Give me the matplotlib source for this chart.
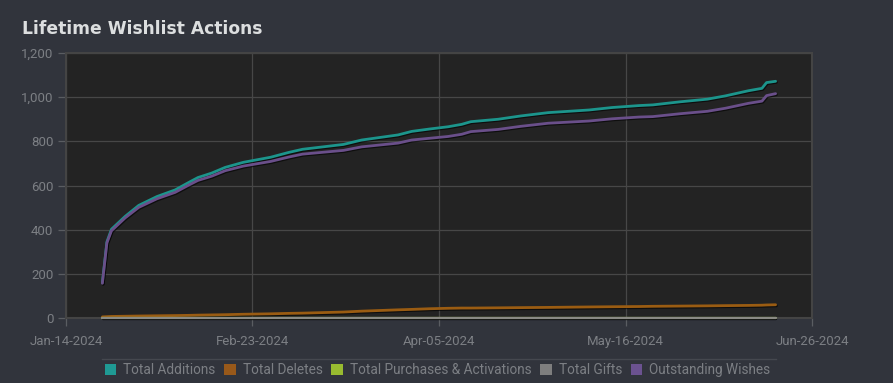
import numpy as np
import matplotlib
matplotlib.use("Agg")
import matplotlib.pyplot as plt
import matplotlib.dates as mdates
import matplotlib.patheffects as pe
from matplotlib.patches import Patch
from matplotlib.lines import Line2D
from datetime import date

# dates sampled off the chart
dates = [
    "2024-01-22", "2024-01-23", "2024-01-24", "2024-01-27", "2024-01-30",
    "2024-02-03", "2024-02-07", "2024-02-10", "2024-02-12", "2024-02-15",
    "2024-02-18", "2024-02-22", "2024-02-28", "2024-03-03", "2024-03-06",
    "2024-03-15", "2024-03-19", "2024-03-27", "2024-03-30", "2024-04-03",
    "2024-04-07", "2024-04-10", "2024-04-12", "2024-04-18", "2024-04-23",
    "2024-04-29", "2024-05-08", "2024-05-13", "2024-05-19", "2024-05-22",
    "2024-05-28", "2024-06-03", "2024-06-07", "2024-06-12", "2024-06-15",
    "2024-06-16", "2024-06-18",
]
total_additions = [
    160, 345, 402, 460, 510, 550, 580, 614, 636, 656,
    682, 705, 728, 750, 764, 786, 806, 829, 845, 856,
    866, 877, 889, 900, 915, 930, 942, 953, 962, 965,
    979, 991, 1006, 1029, 1040, 1066, 1072,
]
total_deletes = [
    5, 6, 7, 8, 9, 10, 11, 12, 13, 14,
    15, 17, 19, 21, 22, 27, 31, 37, 39, 42,
    44, 45, 45, 46, 47, 48, 50, 51, 52, 53,
    54, 55, 56, 57, 58, 59, 60,
]
total_purchases = [0] * len(dates)
total_gifts = [0] * len(dates)
outstanding = [
    157, 340, 395, 453, 501, 540, 569, 602, 623, 642,
    667, 688, 709, 729, 742, 759, 775, 792, 806, 814,
    822, 832, 844, 854, 868, 882, 892, 902, 910, 912,
    925, 936, 950, 972, 982, 1007, 1016,
]

x_labels = ["Jan-14-2024", "Feb-23-2024", "Apr-05-2024", "May-16-2024", "Jun-26-2024"]
y_ticks = [0, 200, 400, 600, 800, 1000, 1200]

series = [
    ("Total Additions", total_additions, "#1c958c", "#1f9a94"),
    ("Total Deletes", total_deletes, "#9a5c12", "#98591a"),
    ("Total Purchases & Activations", total_purchases, "#8fb52a", "#98bb30"),
    ("Total Gifts", total_gifts, "#8a8a84", "#7e7e7e"),
    ("Outstanding Wishes", outstanding, "#6a4f8a", "#6b5290"),
]

plt.rcParams["font.family"] = ["Roboto", "DejaVu Sans"]

bg = "#31343c"
fig = plt.figure(figsize=(8.93, 3.83), dpi=100, facecolor=bg)
ax = fig.add_axes([0.0739, 0.1697, 0.8354, 0.6919], facecolor="#232323")

x = mdates.datestr2num(dates)
for name, vals, col, _ in series:
    flat = name in ("Total Purchases & Activations", "Total Gifts")
    ax.plot(x, vals, color=col, lw=1.6 if flat else 2.0, solid_capstyle="round",
            clip_on=not flat, zorder=4 if flat else 3,
            path_effects=[pe.SimpleLineShadow(offset=(0.6, -0.8), shadow_color="black", alpha=0.6),
                          pe.Normal()])

x0 = mdates.date2num(date(2024, 1, 14))
x1 = mdates.date2num(date(2024, 6, 26))
ax.set_xlim(x0, x1)
ax.set_ylim(0, 1200)
ax.set_xticks(np.linspace(x0, x1, len(x_labels)))
ax.set_xticklabels(x_labels)
ax.set_yticks(y_ticks)
ax.set_yticklabels([f"{v:,}" for v in y_ticks])

ax.grid(True, color="#474747", lw=0.9)
ax.set_axisbelow(True)
for s in ax.spines.values():
    s.set_color("#444444")
    s.set_linewidth(1.5)
ax.tick_params(colors="#5a5d62", labelcolor="#7c7f84", labelsize=9.5, length=6, width=0.9)
ax.tick_params(axis="x", pad=6)
ax.tick_params(axis="y", pad=3)

fig.text(0.0246, 0.925, "Lifetime Wishlist Actions", color="#dcdedf",
         fontsize=12.3, fontweight="bold", family="DejaVu Sans", va="center")

# separator above legend
fig.add_artist(Line2D([102 / 893, 776 / 893], [1 - 359 / 383, 1 - 359 / 383],
                      color="#45484f", lw=1))

handles = [Patch(facecolor=lc, edgecolor="none", label=n) for n, _, _, lc in series]
fig.legend(handles=handles, loc="center", bbox_to_anchor=(0.49, 1 - 370 / 383),
           ncol=5, frameon=False, fontsize=9.8, labelcolor="#7c7f84",
           handlelength=0.85, handleheight=0.85, handletextpad=0.5,
           columnspacing=0.65, borderpad=0)

fig.savefig("out.png", dpi=100, facecolor=bg)
